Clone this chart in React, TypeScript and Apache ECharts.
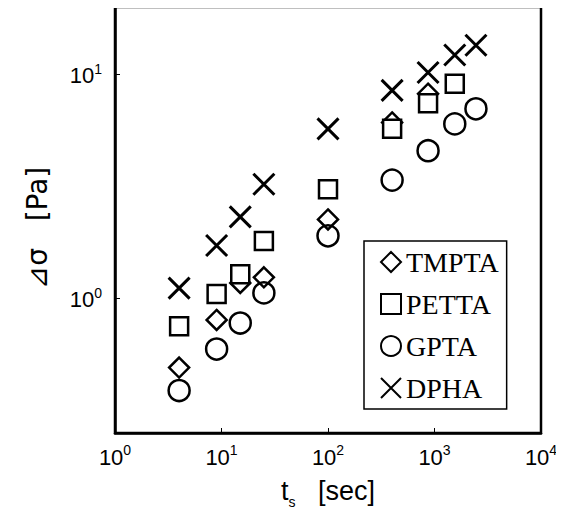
import React, { useEffect, useRef } from "react";
import * as echarts from "echarts";

const seriesNames = ["TMPTA", "PETTA", "GPTA", "DPHA"];
const tmptaTime = [4, 9, 15, 25, 100, 400, 870];
const tmptaValues = [0.49, 0.8, 1.17, 1.24, 2.25, 6.1, 8.2];
const pettaTime = [4, 9, 15, 25, 100, 400, 870, 1550];
const pettaValues = [0.75, 1.045, 1.28, 1.8, 3.07, 5.71, 7.43, 9.08];
const gptaTime = [4, 9, 15, 25, 100, 400, 870, 1550, 2450];
const gptaValues = [0.387, 0.593, 0.775, 1.056, 1.9, 3.37, 4.56, 6.01, 7.02];
const dphaTime = [4, 9, 15, 25, 100, 400, 870, 1550, 2450];
const dphaValues = [1.11, 1.72, 2.31, 3.23, 5.71, 8.48, 10.2, 12.2, 13.5];
const xExponents = [0, 1, 2, 3, 4];
const yExponents = [0, 1];

const SANS = "'Liberation Sans', Arial, 'DejaVu Sans', sans-serif";
const SERIF = "'Liberation Serif', 'Times New Roman', serif";
const CROSS = "path://M0,0L20,20M20,0L0,20";

const pairs = (t: number[], v: number[]) => t.map((x, i) => [x, v[i]]);

const makeFormatter = (exps: number[]) => (value: number) => {
  const e = Math.round(Math.log10(value));
  if (exps.indexOf(e) >= 0 && Math.abs(value / Math.pow(10, e) - 1) < 1e-6) {
    return `{b|10}{s|${e}}`;
  }
  return "";
};

const labelRich = {
  b: { fontSize: 22, fontFamily: SANS, color: "#000", verticalAlign: "bottom" },
  s: {
    fontSize: 14,
    fontFamily: SANS,
    color: "#000",
    verticalAlign: "bottom",
    padding: [0, 0, 11, 0],
  },
};

export default function App() {
  const ref = useRef<HTMLDivElement>(null);
  useEffect(() => {
    if (!ref.current) return;
    const chart = echarts.init(ref.current, null, { renderer: "svg" });
    const markerStroke = { borderColor: "#000", borderWidth: 2.5, opacity: 1 };
    chart.setOption({
      animation: false,
      backgroundColor: "#fff",
      grid: {
        left: 115,
        right: 23,
        top: 7,
        bottom: 94,
        show: true,
        borderColor: "#000",
        borderWidth: 2.5,
        backgroundColor: "transparent",
      },
      legend: {
        orient: "vertical",
        left: 364,
        top: 241,
        padding: [7, 8, 7, 16],
        backgroundColor: "#fff",
        borderColor: "#000",
        borderWidth: 1.5,
        itemWidth: 20,
        itemHeight: 20,
        itemGap: 14,
        selectedMode: false,
        data: seriesNames,
        textStyle: { fontFamily: SERIF, fontSize: 28, color: "#000" },
      },
      xAxis: {
        type: "log",
        logBase: 10,
        min: 1,
        max: 10000,
        axisLine: { show: true, lineStyle: { color: "#000", width: 2.5 } },
        axisTick: { show: true, inside: true, length: 5, lineStyle: { color: "#000", width: 1 } },
        splitLine: { show: false },
        axisLabel: { margin: 10, formatter: makeFormatter(xExponents), rich: labelRich },
        name: "{a|t}{b|s}{a|   [sec]}",
        nameLocation: "middle",
        nameGap: 44,
        nameTextStyle: {
          rich: {
            a: { fontSize: 27, fontFamily: SANS, color: "#000", verticalAlign: "bottom", padding: [0, 0, 5, 0] },
            b: { fontSize: 14, fontFamily: SANS, color: "#000", verticalAlign: "bottom" },
          },
        },
      },
      yAxis: {
        type: "log",
        logBase: 10,
        min: 0.25,
        max: 20,
        axisLine: { show: true, lineStyle: { color: "#000", width: 2.5 } },
        axisTick: { show: true, inside: true, length: 5, lineStyle: { color: "#000", width: 1 } },
        splitLine: { show: false },
        axisLabel: { margin: 13, formatter: makeFormatter(yExponents), rich: labelRich },
        name: "⊿σ   [Pa]",
        nameLocation: "middle",
        nameRotate: 90,
        nameGap: 64,
        nameTextStyle: {
          fontSize: 28,
          fontFamily: "'DejaVu Sans', sans-serif",
          color: "#000",
          padding: [0, 16, 0, 0],
        },
      },
      series: [
        {
          name: seriesNames[0],
          type: "scatter",
          symbol: "diamond",
          symbolSize: 20,
          itemStyle: { color: "rgba(255,255,255,0)", ...markerStroke },
          data: pairs(tmptaTime, tmptaValues),
        },
        {
          name: seriesNames[1],
          type: "scatter",
          symbol: "rect",
          symbolSize: 18,
          itemStyle: { color: "#fff", ...markerStroke },
          data: pairs(pettaTime, pettaValues),
        },
        {
          name: seriesNames[2],
          type: "scatter",
          symbol: "circle",
          symbolSize: 21,
          itemStyle: { color: "rgba(255,255,255,0)", ...markerStroke },
          data: pairs(gptaTime, gptaValues),
        },
        {
          name: seriesNames[3],
          type: "scatter",
          symbol: CROSS,
          symbolSize: 21,
          itemStyle: { color: "rgba(255,255,255,0)", borderColor: "#000", borderWidth: 3, opacity: 1 },
          data: pairs(dphaTime, dphaValues),
        },
      ],
    });
    return () => chart.dispose();
  }, []);
  return <div ref={ref} style={{ width: 564, height: 527, margin: -8 }} />;
}
